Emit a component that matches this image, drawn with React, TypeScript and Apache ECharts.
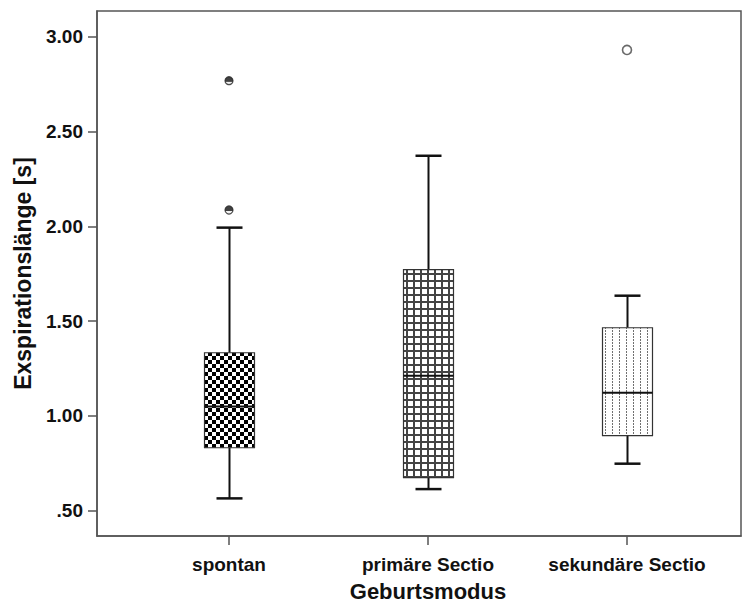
import React, { useEffect, useRef } from 'react';
import * as echarts from 'echarts';

const categories = ['spontan', 'primäre Sectio', 'sekundäre Sectio'];
// box statistics per category: lower whisker, Q1, median, Q3, upper whisker
const whiskerLow = [0.565, 0.614, 0.748];
const quartile1 = [0.832, 0.674, 0.896];
const medians = [1.05, 1.212, 1.122];
const quartile3 = [1.333, 1.772, 1.465];
const whiskerHigh = [1.993, 2.372, 1.634];
// outliers: [category index, value]
const filledOutliers = [
  [0, 2.768],
  [0, 2.086],
];
const openOutliers = [[2, 2.93]];
const yTicks = [0.5, 1.0, 1.5, 2.0, 2.5, 3.0];

const Y_MIN = 0.3666;
const Y_MAX = 3.1355;
const FONT = "'Liberation Sans', Arial, sans-serif";

function makePattern(w: number, h: number, draw: (ctx: CanvasRenderingContext2D) => void) {
  const c = document.createElement('canvas');
  c.width = w;
  c.height = h;
  const ctx = c.getContext('2d') as CanvasRenderingContext2D;
  ctx.fillStyle = '#ffffff';
  ctx.fillRect(0, 0, w, h);
  draw(ctx);
  return { image: c.toDataURL(), repeat: 'repeat', imageWidth: w, imageHeight: h };
}

export default function App() {
  const ref = useRef<HTMLDivElement>(null);

  useEffect(() => {
    if (!ref.current) return;
    const chart = echarts.init(ref.current, undefined, { renderer: 'svg' });

    const checker = makePattern(8, 8, (ctx) => {
      ctx.fillStyle = '#000';
      ctx.fillRect(0, 0, 4, 4);
      ctx.fillRect(4, 4, 4, 4);
    });
    const grid = makePattern(7, 7, (ctx) => {
      ctx.fillStyle = '#444';
      ctx.fillRect(0, 0, 2, 7);
      ctx.fillRect(0, 0, 7, 2);
    });
    const dots = makePattern(7, 3, (ctx) => {
      ctx.fillStyle = '#707070';
      ctx.fillRect(3, 0, 1, 2);
    });
    const patterns = [checker, grid, dots];

    const boxData = categories.map((_, i) => [
      i,
      whiskerLow[i],
      quartile1[i],
      medians[i],
      quartile3[i],
      whiskerHigh[i],
    ]);

    const axisColor = '#555';
    const labelStyle = { color: '#111', fontFamily: FONT, fontSize: 19, fontWeight: 'bold' };
    const titleStyle = { color: '#111', fontFamily: FONT, fontSize: 22, fontWeight: 'bold' };

    chart.setOption({
      animation: false,
      grid: [
        {
          left: 97, top: 11, width: 644, height: 525, show: true, borderColor: axisColor, borderWidth: 1.5,
          backgroundColor: 'transparent', containLabel: false, outerBoundsMode: 'none',
        },
        { left: 129.5, top: 11, width: 597, height: 525, containLabel: false, outerBoundsMode: 'none' },
      ],
      xAxis: [
        {
          gridIndex: 0,
          type: 'value',
          min: 0,
          max: 1,
          axisLine: { show: true, lineStyle: { color: axisColor, width: 1.5 } },
          axisTick: { show: false },
          axisLabel: { show: false },
          splitLine: { show: false },
        },
        {
          gridIndex: 1,
          type: 'category',
          data: categories,
          boundaryGap: true,
          axisLine: { show: false },
          axisTick: { show: true, alignWithLabel: true, interval: 0, length: 9, lineStyle: { color: axisColor, width: 1.5 } },
          axisLabel: { ...labelStyle, margin: 19, interval: 0, hideOverlap: false },
          splitLine: { show: false },
          name: 'Geburtsmodus',
          nameLocation: 'middle',
          nameGap: 44,
          nameTextStyle: titleStyle,
        },
      ],
      yAxis: [
        {
          gridIndex: 0,
          type: 'value',
          min: Y_MIN,
          max: Y_MAX,
          axisLine: { show: true, lineStyle: { color: axisColor, width: 1.5 } },
          axisTick: { show: true, length: 9, customValues: yTicks, lineStyle: { color: axisColor, width: 1.5 } },
          axisLabel: {
            ...labelStyle,
            customValues: yTicks,
            margin: 14,
            formatter: (v: number) => {
              const s = v.toFixed(2);
              return s.startsWith('0') ? s.slice(1) : s;
            },
          },
          splitLine: { show: false },
          name: 'Exspirationslänge [s]',
          nameLocation: 'middle',
          nameGap: 63,
          nameRotate: 90,
          nameTextStyle: { ...titleStyle, fontSize: 23 },
        },
        { gridIndex: 1, type: 'value', min: Y_MIN, max: Y_MAX, show: false },
      ],
      series: [
        {
          type: 'custom',
          xAxisIndex: 1,
          yAxisIndex: 1,
          data: boxData,
          encode: { x: 0, y: [1, 2, 3, 4, 5] },
          renderItem: (params: any, api: any) => {
            const idx = api.value(0);
            const lo = api.coord([idx, api.value(1)]);
            const q1 = api.coord([idx, api.value(2)]);
            const med = api.coord([idx, api.value(3)]);
            const q3 = api.coord([idx, api.value(4)]);
            const hi = api.coord([idx, api.value(5)]);
            const cx = Math.round(lo[0]) + 0.5;
            const half = 25;
            const capHalf = 13;
            const stroke = '#111';
            return {
              type: 'group',
              children: [
                { type: 'line', shape: { x1: cx, y1: q3[1], x2: cx, y2: hi[1] }, style: { stroke, lineWidth: 2 } },
                { type: 'line', shape: { x1: cx - capHalf, y1: hi[1], x2: cx + capHalf, y2: hi[1] }, style: { stroke, lineWidth: 2.5 } },
                { type: 'line', shape: { x1: cx, y1: q1[1], x2: cx, y2: lo[1] }, style: { stroke, lineWidth: 2 } },
                { type: 'line', shape: { x1: cx - capHalf, y1: lo[1], x2: cx + capHalf, y2: lo[1] }, style: { stroke, lineWidth: 2.5 } },
                {
                  type: 'rect',
                  shape: { x: cx - half, y: q3[1], width: half * 2, height: q1[1] - q3[1] },
                  style: { fill: patterns[idx], stroke: '#333', lineWidth: 1.2 },
                },
                { type: 'line', shape: { x1: cx - half, y1: med[1], x2: cx + half, y2: med[1] }, style: { stroke, lineWidth: 2 } },
              ],
            };
          },
          z: 2,
        },
        {
          type: 'scatter',
          xAxisIndex: 1,
          yAxisIndex: 1,
          data: filledOutliers,
          symbol: 'circle',
          symbolSize: 8,
          itemStyle: {
            color: new echarts.graphic.LinearGradient(0, 0, 0, 1, [
              { offset: 0, color: '#111' },
              { offset: 0.6, color: '#111' },
              { offset: 0.62, color: '#eee' },
              { offset: 1, color: '#eee' },
            ]),
            borderColor: '#222',
            borderWidth: 1.2,
          },
          z: 3,
        },
        {
          type: 'scatter',
          xAxisIndex: 1,
          yAxisIndex: 1,
          data: openOutliers,
          symbol: 'circle',
          symbolSize: 9,
          itemStyle: { color: '#fff', borderColor: '#444', borderWidth: 1.6 },
          z: 3,
        },
      ],
    });

    return () => chart.dispose();
  }, []);

  return (
    <div
      ref={ref}
      style={{ position: 'absolute', left: 0, top: 0, width: 749, height: 604, background: '#fff' }}
    />
  );
}
